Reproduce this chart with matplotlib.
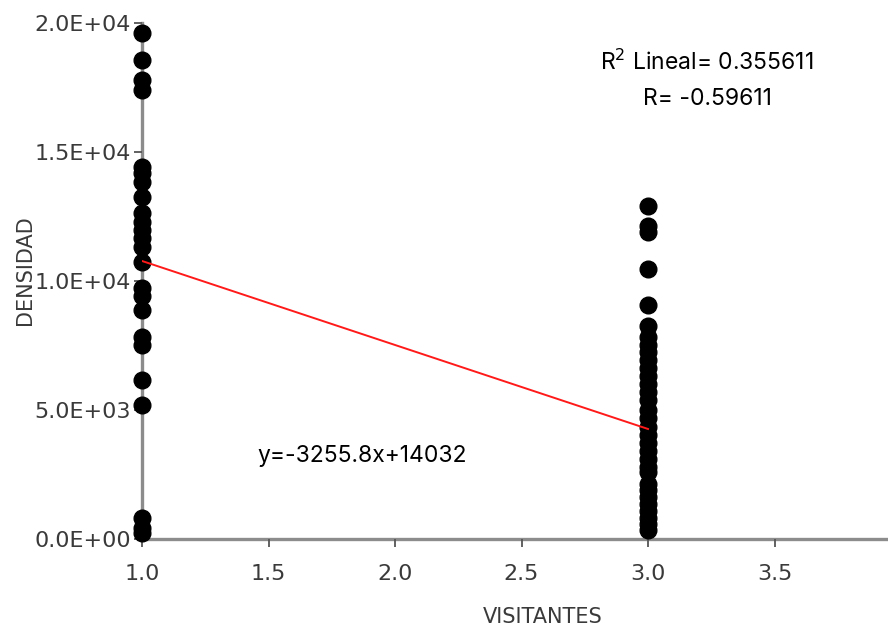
"""
Scatter of DENSIDAD vs VISITANTES with a linear fit line (SPSS-like look).
"""

import matplotlib
matplotlib.use("Agg")
import matplotlib.pyplot as plt
from matplotlib.ticker import FuncFormatter

# ---------------------------------------------------------------------------
# Data
# ---------------------------------------------------------------------------
densidad_v1 = [
    19610, 18570, 17790, 17400, 14420, 14190, 13840, 13260, 12640, 12290,
    11980, 11670, 11320, 10740, 9730, 9420, 8880, 7830, 7520, 6160,
    5190, 810, 430, 230,
]
densidad_v3 = [
    12910, 12130, 11900, 10470, 9070, 8260, 7830, 7520, 7250, 6940,
    6630, 6320, 6010, 5700, 5390, 5000, 4690, 4340, 4030, 3720,
    3410, 3100, 2790, 2600, 2130, 1900, 1630, 1360, 1090, 810,
    580, 350,
]
visitantes_groups = [1.0, 3.0]

slope = -3255.8
intercept = 14032
r_squared = 0.355611
r_value = -0.59611

x_ticks = [1.0, 1.5, 2.0, 2.5, 3.0, 3.5]
y_ticks = [0, 5000, 10000, 15000, 20000]

# ---------------------------------------------------------------------------
# Figure
# ---------------------------------------------------------------------------
fig = plt.figure(figsize=(8.88, 6.30), dpi=100)
ax = fig.add_axes([142 / 888, 91 / 630, 746 / 888, 516 / 630])

spine_color = "#8c8c8c"
text_color = "#3a3a3a"

xs = [visitantes_groups[0]] * len(densidad_v1) + [visitantes_groups[1]] * len(densidad_v3)
ys = densidad_v1 + densidad_v3
ax.plot(xs, ys, "o", color="black", markersize=12, zorder=3, clip_on=False)

# fitted line between the two groups
fit_x = visitantes_groups
fit_y = [slope * v + intercept for v in fit_x]
ax.plot(fit_x, fit_y, color="#ff1a1a", linewidth=1.4, zorder=4)

ax.set_xlim(1.0, 1.0 + 746 / 253)
ax.set_ylim(0, 20000)
ax.set_xticks(x_ticks)
ax.set_yticks(y_ticks)
ax.xaxis.set_major_formatter(FuncFormatter(lambda v, _: f"{v:.1f}"))
ax.yaxis.set_major_formatter(FuncFormatter(lambda v, _: f"{v:.1E}"))

for side in ("top", "right"):
    ax.spines[side].set_visible(False)
for side in ("left", "bottom"):
    ax.spines[side].set_color(spine_color)
    ax.spines[side].set_linewidth(2.4)
    ax.spines[side].set_zorder(1)

ax.tick_params(axis="both", colors="#555555", width=1.3, length=6,
               labelsize=16, labelcolor=text_color)
ax.tick_params(axis="x", pad=12)
ax.tick_params(axis="y", pad=2)

ax.set_xlabel("VISITANTES", fontsize=15, color=text_color)
ax.set_ylabel("DENSIDAD", fontsize=15, color=text_color)
ax.xaxis.label.set_va("center")
ax.yaxis.label.set_va("center")
ax.xaxis.set_label_coords((543 - 142) / 746, -(617 - 539) / 516)
ax.yaxis.set_label_coords(-(142 - 25) / 746, (539 - 270) / 516)

note_font = "Inter"
fig.text(707 / 888, 1 - 62 / 630, f"R$^2$ Lineal= {r_squared}",
         ha="center", va="center", fontsize=16.5, family=note_font, color="black")
fig.text(707 / 888, 1 - 99 / 630, f"R= {r_value}",
         ha="center", va="center", fontsize=16.5, family=note_font, color="black")
fig.text(362 / 888, 1 - 456 / 630, f"y={slope}x+{intercept}",
         ha="center", va="center", fontsize=16.5, family=note_font, color="black")

fig.savefig("out.png", dpi=100)
